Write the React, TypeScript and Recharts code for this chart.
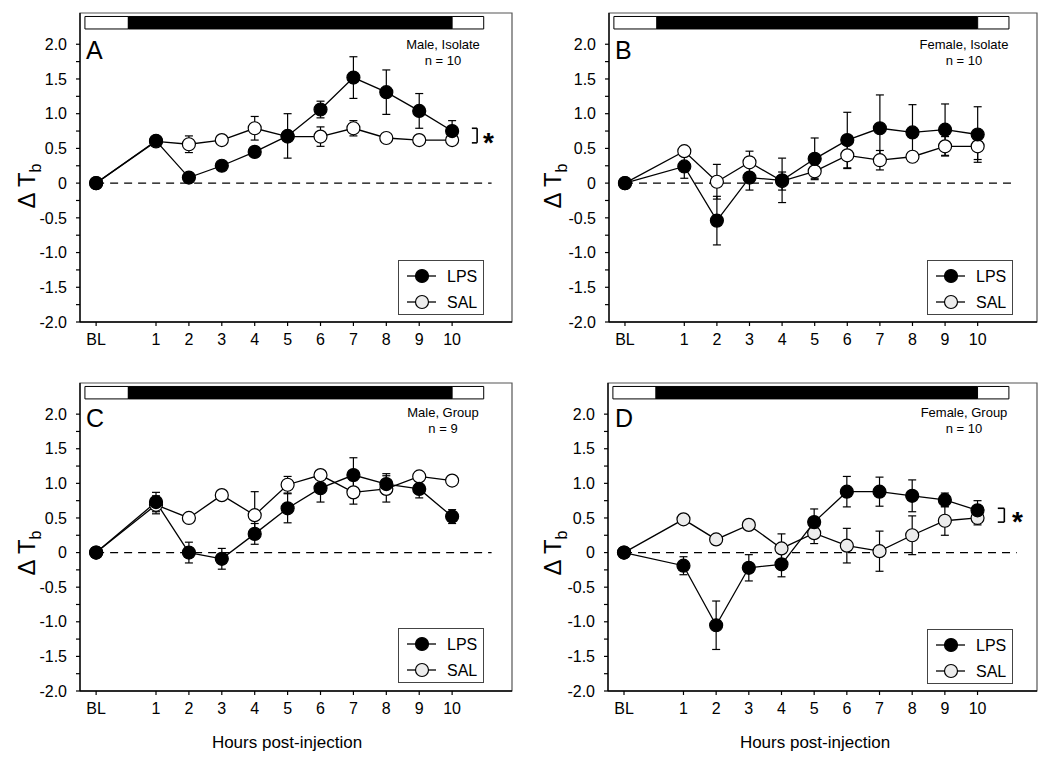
import React from 'react';
import { ComposedChart, Line, XAxis, YAxis, ReferenceArea, ReferenceLine, ErrorBar, Legend } from 'recharts';

const FONT = '"Liberation Sans", Arial, Helvetica, sans-serif';

// categories
const hourLabels = ['BL', '1', '2', '3', '4', '5', '6', '7', '8', '9', '10'];
const hourPositions = [-0.82, 1, 2, 3, 4, 5, 6, 7, 8, 9, 10];
const seriesNames = ['LPS', 'SAL'];
const yTicks = [-2, -1.75, -1.5, -1.25, -1, -0.75, -0.5, -0.25, 0, 0.25, 0.5, 0.75, 1, 1.25, 1.5, 1.75, 2];
const xDomain = [-1.31, 11.82];
const yDomain = [-2, 2.45];

// Panel A: Male, Isolate
const aLps = [0, 0.61, 0.08, 0.25, 0.45, 0.68, 1.06, 1.52, 1.31, 1.04, 0.75];
const aLpsErr = [0, 0.04, 0.03, 0.04, 0.07, 0.32, 0.12, 0.3, 0.32, 0.25, 0.15];
const aSal = [0, 0.6, 0.56, 0.62, 0.79, 0.67, 0.67, 0.79, 0.65, 0.62, 0.62];
const aSalErr = [0, 0.03, 0.12, 0.03, 0.17, 0.05, 0.14, 0.11, 0.03, 0.03, 0.03];

// Panel B: Female, Isolate
const bLps = [0, 0.24, -0.54, 0.08, 0.04, 0.35, 0.62, 0.79, 0.73, 0.77, 0.7];
const bLpsErr = [0, 0.17, 0.35, 0.18, 0.32, 0.3, 0.4, 0.48, 0.4, 0.37, 0.4];
const bSal = [0, 0.46, 0.02, 0.3, 0.03, 0.17, 0.4, 0.33, 0.38, 0.53, 0.53];
const bSalErr = [0, 0.05, 0.25, 0.16, 0.13, 0.1, 0.19, 0.14, 0.06, 0.14, 0.19];

// Panel C: Male, Group
const cLps = [0, 0.73, 0.0, -0.09, 0.27, 0.64, 0.93, 1.12, 0.99, 0.92, 0.52];
const cLpsErr = [0, 0.14, 0.15, 0.15, 0.15, 0.21, 0.2, 0.25, 0.15, 0.13, 0.1];
const cSal = [0, 0.69, 0.5, 0.83, 0.54, 0.98, 1.12, 0.87, 0.92, 1.1, 1.04];
const cSalErr = [0, 0.13, 0.05, 0.04, 0.34, 0.12, 0.04, 0.17, 0.19, 0.04, 0.05];

// Panel D: Female, Group
const dLps = [0, -0.19, -1.05, -0.22, -0.17, 0.44, 0.88, 0.88, 0.82, 0.76, 0.61];
const dLpsErr = [0, 0.13, 0.35, 0.19, 0.18, 0.19, 0.22, 0.21, 0.23, 0.1, 0.14];
const dSal = [0, 0.48, 0.19, 0.4, 0.06, 0.28, 0.1, 0.02, 0.25, 0.46, 0.5];
const dSalErr = [0, 0.05, 0.04, 0.04, 0.21, 0.15, 0.25, 0.29, 0.28, 0.21, 0.1];

// light/dark bar (hours)
const lightStart = -1.16;
const darkStart = 0.16;
const darkEnd = 10;
const lightEnd = 10.96;
const barLow = 2.22;
const barHigh = 2.4;

type PanelProps = {
  left: number;
  top: number;
  height: number;
  margin: { top: number; right: number; bottom: number; left: number };
  lps: number[];
  lpsErr: number[];
  sal: number[];
  salErr: number[];
  salFill: string;
  letter: string;
  letterPos: [number, number];
  title: [string, string];
  titlePos: [number, number, number];
  yLabelPos: [number, number];
  xTitle?: [number, number];
  legendPos: [number, number];
  bracket?: { x1: number; x2: number; y1: number; y2: number };
  starPos?: [number, number];
};

const LegendBox = ({ salFill }: { salFill: string }) => (
  <div style={{ width: 86, height: 55, border: '1px solid #444', boxSizing: 'border-box', background: '#fff' }}>
    <svg width={84} height={53} style={{ display: 'block' }}>
      <line x1={8} x2={37} y1={15} y2={15} stroke="#000" strokeWidth={1.3} />
      <circle cx={23} cy={15} r={6.5} fill="#000" stroke="#000" strokeWidth={1.2} />
      <text x={48} y={21} fontSize={16} fontFamily={FONT} fill="#000">{seriesNames[0]}</text>
      <line x1={8} x2={37} y1={41} y2={41} stroke="#000" strokeWidth={1.3} />
      <circle cx={23} cy={41} r={6.5} fill={salFill} stroke="#000" strokeWidth={1.2} />
      <text x={48} y={47} fontSize={16} fontFamily={FONT} fill="#000">{seriesNames[1]}</text>
    </svg>
  </div>
);

const Panel = (p: PanelProps) => {
  const data = hourPositions.map((x, i) => ({
    x,
    label: hourLabels[i],
    lps: p.lps[i],
    lpsErr: p.lpsErr[i],
    sal: p.sal[i],
    salErr: p.salErr[i],
  }));
  const fmtX = (v: number) => {
    const i = hourPositions.indexOf(v);
    return i >= 0 ? hourLabels[i] : '';
  };
  const fmtY = (v: number) => {
    if (Math.abs(v * 2 - Math.round(v * 2)) > 1e-6) return '';
    if (v === 0) return '0';
    return v.toFixed(1);
  };
  return (
    <div style={{ position: 'absolute', left: p.left, top: p.top, width: 525, height: p.height }}>
      <ComposedChart width={525} height={p.height} data={data} margin={p.margin}>
        <XAxis
          type="number"
          dataKey="x"
          domain={xDomain}
          ticks={hourPositions}
          interval={0}
          allowDataOverflow
          tickFormatter={fmtX}
          height={30}
          tickSize={4}
          tickMargin={8}
          axisLine={{ stroke: '#000', strokeWidth: 1.3 }}
          tickLine={{ stroke: '#000', strokeWidth: 1.2 }}
          tick={{ fill: '#000', fontSize: 16, fontFamily: FONT }}
        />
        <YAxis
          type="number"
          domain={yDomain}
          ticks={yTicks}
          interval={0}
          allowDataOverflow
          tickFormatter={fmtY}
          width={60}
          tickSize={4}
          tickMargin={9}
          axisLine={{ stroke: '#000', strokeWidth: 1.3 }}
          tickLine={{ stroke: '#000', strokeWidth: 1.2 }}
          tick={{ fill: '#000', fontSize: 16, fontFamily: FONT }}
        />
        <ReferenceArea x1={xDomain[0]} x2={xDomain[1]} y1={yDomain[0]} y2={yDomain[1]} fill="none" stroke="#555" strokeWidth={1.2} />
        <ReferenceArea x1={lightStart} x2={darkStart} y1={barLow} y2={barHigh} fill="#fff" fillOpacity={1} stroke="#000" strokeWidth={1} />
        <ReferenceArea x1={darkStart} x2={darkEnd} y1={barLow} y2={barHigh} fill="#000" fillOpacity={1} stroke="#000" strokeWidth={1} />
        <ReferenceArea x1={darkEnd} x2={lightEnd} y1={barLow} y2={barHigh} fill="#fff" fillOpacity={1} stroke="#000" strokeWidth={1} />
        <ReferenceLine
          segment={[{ x: hourPositions[0], y: 0 }, { x: 11.2, y: 0 }]}
          stroke="#000"
          strokeWidth={1.3}
          strokeDasharray="8 6"
        />
        {p.bracket && (
          <ReferenceLine segment={[{ x: p.bracket.x2, y: p.bracket.y1 }, { x: p.bracket.x2, y: p.bracket.y2 }]} stroke="#000" strokeWidth={1.6} />
        )}
        {p.bracket && (
          <ReferenceLine segment={[{ x: p.bracket.x1, y: p.bracket.y1 }, { x: p.bracket.x2, y: p.bracket.y1 }]} stroke="#000" strokeWidth={1.6} />
        )}
        {p.bracket && (
          <ReferenceLine segment={[{ x: p.bracket.x1, y: p.bracket.y2 }, { x: p.bracket.x2, y: p.bracket.y2 }]} stroke="#000" strokeWidth={1.6} />
        )}
        <Line
          dataKey="sal"
          name={seriesNames[1]}
          stroke="#000"
          strokeWidth={1.3}
          dot={{ r: 6.5, fill: p.salFill, stroke: '#000', strokeWidth: 1.2 }}
          isAnimationActive={false}
        >
          <ErrorBar dataKey="salErr" direction="y" width={4} stroke="#000" strokeWidth={1.2} />
        </Line>
        <Line
          dataKey="lps"
          name={seriesNames[0]}
          stroke="#000"
          strokeWidth={1.3}
          dot={{ r: 6.5, fill: '#000', stroke: '#000', strokeWidth: 1.2 }}
          isAnimationActive={false}
        >
          <ErrorBar dataKey="lpsErr" direction="y" width={4} stroke="#000" strokeWidth={1.2} />
        </Line>
        <Legend
          layout="horizontal"
          verticalAlign="middle"
          align="center"
          wrapperStyle={{ left: p.legendPos[0], top: p.legendPos[1], width: 86, height: 55 }}
          content={() => <LegendBox salFill={p.salFill === '#fff' ? '#ececec' : p.salFill} />}
        />
      </ComposedChart>
      <svg width={525} height={p.height} style={{ position: 'absolute', left: 0, top: 0, pointerEvents: 'none' }}>
        <text x={p.letterPos[0]} y={p.letterPos[1]} fontSize={25} fontFamily={FONT} fill="#000">{p.letter}</text>
        <text x={p.titlePos[0]} y={p.titlePos[1]} fontSize={13} fontFamily={FONT} fill="#000" textAnchor="middle">{p.title[0]}</text>
        <text x={p.titlePos[0]} y={p.titlePos[2]} fontSize={13} fontFamily={FONT} fill="#000" textAnchor="middle">{p.title[1]}</text>
        <g transform={`translate(${p.yLabelPos[0]}, ${p.yLabelPos[1]}) rotate(-90)`}>
          <text x={0} y={8} fontSize={24} fontFamily={FONT} fill="#000" textAnchor="middle">
            Δ T<tspan fontSize={16} dy={6}>b</tspan>
          </text>
        </g>
        {p.starPos && (
          <text x={p.starPos[0]} y={p.starPos[1]} fontSize={28} fontWeight="bold" fontFamily={FONT} fill="#000">*</text>
        )}
        {p.xTitle && (
          <text x={p.xTitle[0]} y={p.xTitle[1]} fontSize={17} fontFamily={FONT} fill="#000" textAnchor="middle">Hours post-injection</text>
        )}
      </svg>
    </div>
  );
}

export default function App() {
  return (
    <div style={{ position: 'absolute', left: 0, top: 0, width: 1050, height: 771, background: '#fff' }}>
      <Panel
        left={0} top={0} height={380}
        margin={{ top: 13, right: 13, bottom: 28, left: 20 }}
        lps={aLps} lpsErr={aLpsErr} sal={aSal} salErr={aSalErr} salFill="#fff"
        letter="A" letterPos={[86, 59]}
        title={['Male, Isolate', 'n = 10']} titlePos={[443, 49, 65]}
        yLabelPos={[27, 186]}
        legendPos={[398, 260]}
        bracket={{ x1: 10.6, x2: 10.76, y1: 0.58, y2: 0.79 }}
        starPos={[483, 152]}
      />
      <Panel
        left={525} top={0} height={380}
        margin={{ top: 13, right: 13, bottom: 28, left: 24 }}
        lps={bLps} lpsErr={bLpsErr} sal={bSal} salErr={bSalErr} salFill="#fff"
        letter="B" letterPos={[90, 59]}
        title={['Female, Isolate', 'n = 10']} titlePos={[439, 49, 65]}
        yLabelPos={[28, 186]}
        legendPos={[402, 260]}
      />
      <Panel
        left={0} top={380} height={391}
        margin={{ top: 3, right: 13, bottom: 50, left: 20 }}
        lps={cLps} lpsErr={cLpsErr} sal={cSal} salErr={cSalErr} salFill="#fff"
        letter="C" letterPos={[86, 47]}
        title={['Male, Group', 'n = 9']} titlePos={[443, 37, 53]}
        yLabelPos={[27, 173]}
        xTitle={[287, 368]}
        legendPos={[398, 248]}
      />
      <Panel
        left={525} top={380} height={391}
        margin={{ top: 3, right: 13, bottom: 50, left: 23 }}
        lps={dLps} lpsErr={dLpsErr} sal={dSal} salErr={dSalErr} salFill="#ececec"
        letter="D" letterPos={[90, 47]}
        title={['Female, Group', 'n = 10']} titlePos={[439, 37, 53]}
        yLabelPos={[28, 173]}
        xTitle={[290, 368]}
        legendPos={[402, 249]}
        bracket={{ x1: 10.62, x2: 10.82, y1: 0.44, y2: 0.64 }}
        starPos={[487, 151]}
      />
    </div>
  );
}
